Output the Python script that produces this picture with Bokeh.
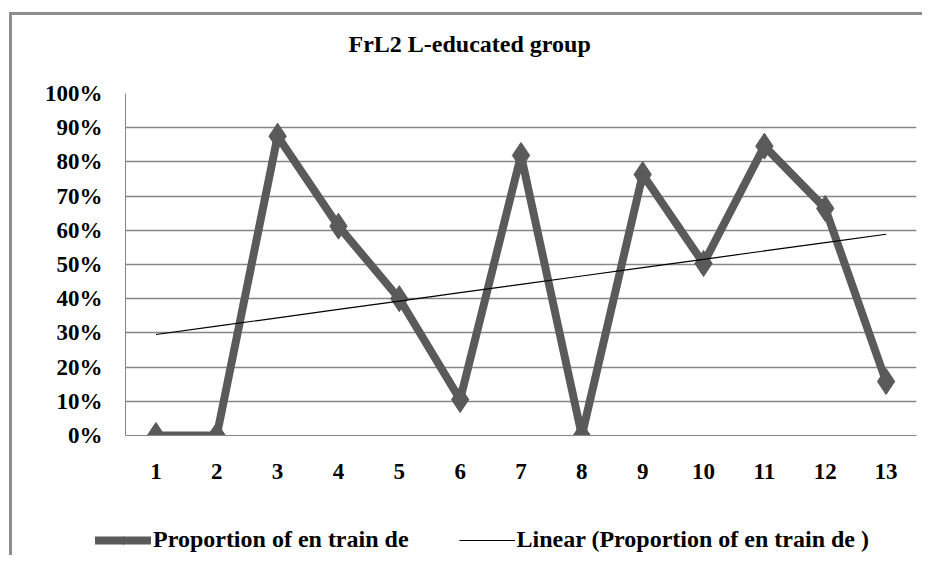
import numpy as np
from bokeh.plotting import figure
from bokeh.layouts import column
from bokeh.models import (Range1d, FixedTicker, NumeralTickFormatter, Legend,
                          LegendItem, Title, InlineStyleSheet)
from bokeh.embed import file_html
from bokeh.resources import INLINE

# ---- data ----
categories = list(range(1, 14))
proportion = [0.0, 0.0, 0.875, 0.612, 0.40, 0.105, 0.819, 0.0, 0.763, 0.503, 0.846, 0.664, 0.158]
y_ticks = [0, 0.1, 0.2, 0.3, 0.4, 0.5, 0.6, 0.7, 0.8, 0.9, 1.0]
title_text = "FrL2 L-educated group"
series_name = "Proportion of en train de"
trend_name = "Linear (Proportion of en train de )"

# linear trend (least squares fit of the series)
coef = np.polyfit(categories, proportion, 1)
trend = list(np.polyval(coef, categories))

FONT = "Liberation Serif"
GRID = "#868686"
SERIES = "#5a5a5a"
BORDER = "#8c8c8c"

p = figure(width=922, height=490, output_backend="svg", toolbar_location=None,
           x_range=Range1d(0.5, 13.5), y_range=Range1d(0, 1.0),
           min_border_left=125, min_border_right=6, min_border_top=93,
           min_border_bottom=55)
p.frame_align = False

# outer chart border (left and top edges), drawn without affecting layout
p.stylesheets = [InlineStyleSheet(css=(
    ":host::before { content: ''; position: absolute; left: 9px; top: 12px; "
    "right: 0px; bottom: 0px; border-left: 3px solid " + BORDER + "; "
    "border-top: 3px solid " + BORDER + "; pointer-events: none; z-index: 5; }"))]

p.outline_line_color = None
p.background_fill_color = "white"
p.border_fill_color = "white"

# axes
p.xaxis.ticker = FixedTicker(ticks=categories)
p.yaxis.ticker = FixedTicker(ticks=y_ticks)
p.yaxis.formatter = NumeralTickFormatter(format="0%")
for ax in (p.xaxis[0], p.yaxis[0]):
    ax.axis_line_color = GRID
    ax.axis_line_width = 1
    ax.major_tick_line_color = None
    ax.minor_tick_line_color = None
    ax.major_label_text_font = FONT
    ax.major_label_text_font_style = "bold"
    ax.major_label_text_font_size = "23px"
    ax.major_label_text_color = "black"
p.xaxis.major_label_standoff = 22
p.yaxis.major_label_standoff = 17

p.xgrid.grid_line_color = None
p.ygrid.grid_line_color = GRID
p.ygrid.grid_line_width = 1.3

# series
p.line(categories, proportion, line_color=SERIES, line_width=8, line_join="round")
p.scatter(categories, proportion, marker="diamond", size=26,
          fill_color=SERIES, line_color=SERIES)
p.line(categories, trend, line_color="black", line_width=1.2)

# title, with an empty spacer panel between it and the plot area
p.add_layout(Title(text=" ", text_font_size="1px", standoff=32), "above")
p.add_layout(Title(text=title_text, text_font=FONT, text_font_style="bold",
                   text_font_size="24px", text_color="black", align="left",
                   offset=223, standoff=4), "above")

# ---- legend strip below the chart (its ranges keep the proxy glyphs out of view) ----
q = figure(width=922, height=65, output_backend="svg", toolbar_location=None,
           x_range=Range1d(100, 101), y_range=Range1d(100, 101),
           x_axis_location=None, y_axis_location=None,
           min_border_left=0, min_border_right=0, min_border_top=0,
           min_border_bottom=0)
q.frame_align = False
q.stylesheets = [InlineStyleSheet(css=(
    ":host::before { content: ''; position: absolute; left: 9px; top: 0px; "
    "bottom: 0px; border-left: 3px solid " + BORDER + "; pointer-events: none; "
    "z-index: 5; }"))]
q.outline_line_color = None
q.xgrid.grid_line_color = None
q.ygrid.grid_line_color = None
q.background_fill_color = "white"
q.border_fill_color = "white"

l_line = q.line(categories, proportion, line_color=SERIES, line_width=8,
                line_cap="round")
l_mark = q.scatter(categories, proportion, marker="diamond", size=14,
                   fill_color=SERIES, line_color=SERIES)
l_trend = q.line(categories, trend, line_color="black", line_width=1.2)

legend = Legend(items=[LegendItem(label=series_name, renderers=[l_line, l_mark]),
                       LegendItem(label=trend_name, renderers=[l_trend])],
                orientation="horizontal", location=(95, 2),
                label_text_font=FONT, label_text_font_style="bold",
                label_text_font_size="24px", label_text_color="black",
                glyph_width=56, glyph_height=20, spacing=50, label_standoff=2,
                border_line_color=None, background_fill_alpha=0,
                padding=0, margin=0)
q.add_layout(legend, "center")

layout = column(p, q, spacing=0)
open("out.html", "w").write(file_html(layout, INLINE))
